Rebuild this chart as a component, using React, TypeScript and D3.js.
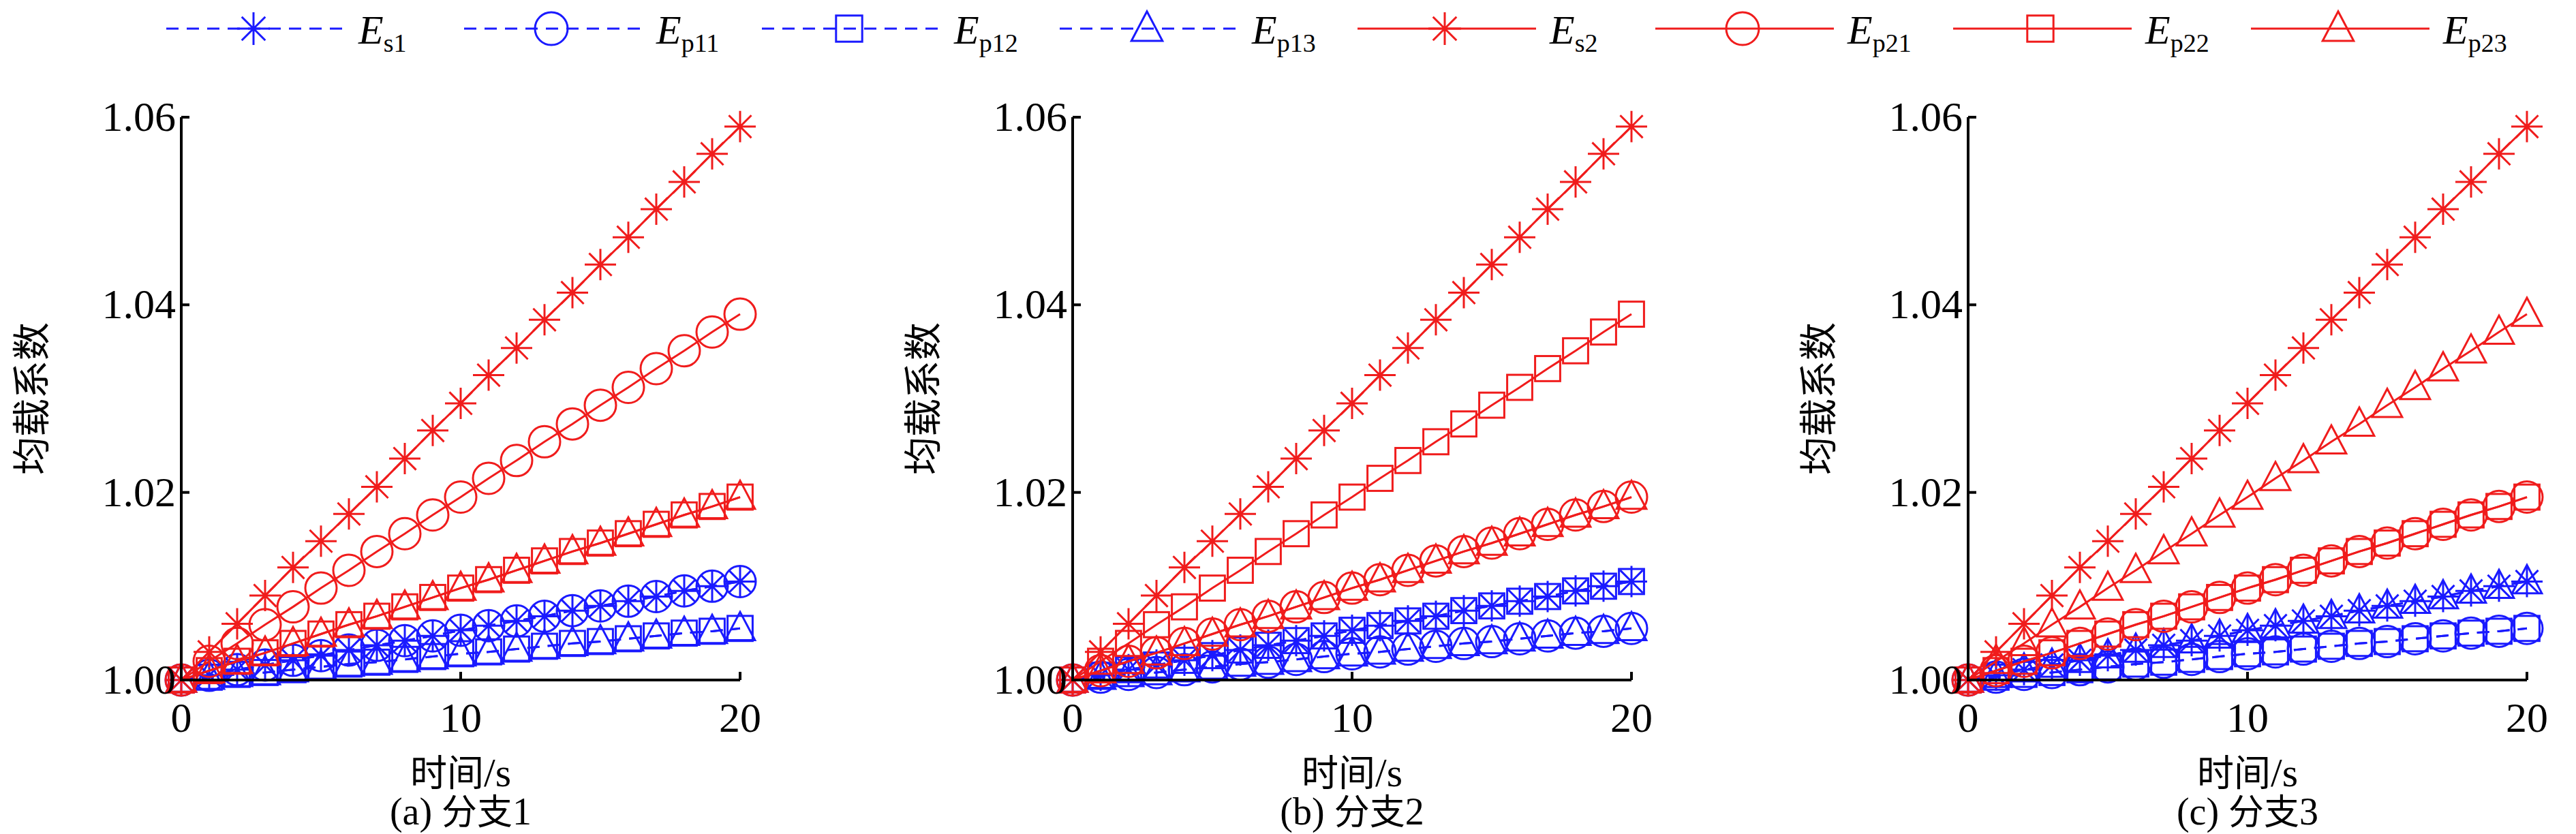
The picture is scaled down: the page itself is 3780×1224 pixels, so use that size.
import React from 'react';
import * as d3 from 'd3';

// time points (s)
const times = [0, 1, 2, 3, 4, 5, 6, 7, 8, 9, 10, 11, 12, 13, 14, 15, 16, 17, 18, 19, 20];

// load-sharing coefficient profiles
const prof059 = [1.000, 1.003, 1.006, 1.009, 1.012, 1.0148, 1.0177, 1.0206, 1.0236, 1.0266, 1.0295, 1.0325, 1.0354, 1.0384, 1.0413, 1.0443, 1.0472, 1.0502, 1.0531, 1.0561, 1.059];
const prof039 = [1.000, 1.002, 1.0039, 1.0059, 1.0078, 1.0098, 1.0117, 1.0137, 1.0156, 1.0176, 1.0195, 1.0215, 1.0234, 1.0254, 1.0273, 1.0293, 1.0312, 1.0332, 1.0351, 1.0371, 1.039];
const prof0195 = [1.000, 1.001, 1.002, 1.0029, 1.0039, 1.0049, 1.0059, 1.0068, 1.0078, 1.0088, 1.0098, 1.0107, 1.0117, 1.0127, 1.0137, 1.0146, 1.0156, 1.0166, 1.0176, 1.0185, 1.0195];
const prof0105 = [1.000, 1.0005, 1.0011, 1.0016, 1.0021, 1.0026, 1.0032, 1.0037, 1.0042, 1.0047, 1.0053, 1.0058, 1.0063, 1.0068, 1.0074, 1.0079, 1.0084, 1.0089, 1.0095, 1.01, 1.0105];
const prof0055 = [1.000, 1.0003, 1.0006, 1.0008, 1.0011, 1.0014, 1.0017, 1.0019, 1.0022, 1.0025, 1.0028, 1.003, 1.0033, 1.0036, 1.0039, 1.0041, 1.0044, 1.0047, 1.005, 1.0052, 1.0055];

// series order: Es1, Ep11, Ep12, Ep13, Es2, Ep21, Ep22, Ep23
const panelA = [prof0105, prof0105, prof0055, prof0055, prof059, prof039, prof0195, prof0195];
const panelB = [prof0105, prof0055, prof0105, prof0055, prof059, prof0195, prof039, prof0195];
const panelC = [prof0105, prof0055, prof0055, prof0105, prof059, prof0195, prof0195, prof039];
const panels = [panelA, panelB, panelC];
const captions = ['(a) 分支1', '(b) 分支2', '(c) 分支3'];

const seriesSub = ['s1', 'p11', 'p12', 'p13', 's2', 'p21', 'p22', 'p23'];
const seriesMarker = ['star', 'circle', 'square', 'triangle', 'star', 'circle', 'square', 'triangle'];
const yTicks = [1.0, 1.02, 1.04, 1.06];
const xTicks = [0, 10, 20];

const BLUE = '#1a1aff';
const RED = '#f01c1c';
const serif = '"Liberation Serif", "Times New Roman", serif';
const cjk = '"Noto Sans CJK SC", sans-serif';

const Marker = ({ type, x, y, color, s }: { type: string; x: number; y: number; color: string; s: number }) => {
  const sw = 3;
  if (type === 'circle') return <circle cx={x} cy={y} r={s} fill="none" stroke={color} strokeWidth={sw} />;
  if (type === 'square') return <rect x={x - s * 0.8} y={y - s * 0.8} width={s * 1.6} height={s * 1.6} fill="none" stroke={color} strokeWidth={sw} />;
  if (type === 'triangle')
    return <path d={`M${x},${y - s * 1.05}L${x + s * 0.95},${y + s * 0.75}L${x - s * 0.95},${y + s * 0.75}Z`} fill="none" stroke={color} strokeWidth={sw} />;
  const d = s * 0.72;
  return (
    <path
      d={`M${x - s},${y}H${x + s}M${x},${y - s}V${y + s}M${x - d},${y - d}L${x + d},${y + d}M${x - d},${y + d}L${x + d},${y - d}`}
      stroke={color}
      strokeWidth={sw}
    />
  );
};

const axisLeftPos = [258, 1566, 2880];
const plotW = 820;
const top = 164;
const bottom = 990;

const Panel = ({ idx }: { idx: number }) => {
  const left = axisLeftPos[idx];
  const x = d3.scaleLinear().domain([0, 20]).range([left, left + plotW]);
  const y = d3.scaleLinear().domain([1.0, 1.06]).range([bottom, top]);
  const line = d3.line<number>().x((_, i) => x(times[i])).y(d => y(d));
  const data = panels[idx];
  const cx = left + plotW / 2;
  return (
    <g>
      {data.map((vals, si) => {
        const color = si < 4 ? BLUE : RED;
        return (
          <g key={si}>
            <path d={line(vals) || ''} fill="none" stroke={color} strokeWidth={3} strokeDasharray={si < 4 ? '18,12' : undefined} />
            {vals.map((v, i) => (
              <Marker key={i} type={seriesMarker[si]} x={x(times[i])} y={y(v)} color={color} s={23} />
            ))}
          </g>
        );
      })}
      <path d={`M${left},${top}V${bottom}H${left + plotW}`} fill="none" stroke="#000" strokeWidth={4} />
      {yTicks.map(t => (
        <g key={t}>
          <line x1={left} x2={left + 12} y1={y(t)} y2={y(t)} stroke="#000" strokeWidth={4} />
          <text x={left - 8} y={y(t) + 20} textAnchor="end" fontFamily={serif} fontSize={62}>{t.toFixed(2)}</text>
        </g>
      ))}
      {xTicks.map(t => (
        <g key={t}>
          <line x1={x(t)} x2={x(t)} y1={bottom} y2={bottom - 12} stroke="#000" strokeWidth={4} />
          <text x={x(t)} y={bottom + 76} textAnchor="middle" fontFamily={serif} fontSize={62}>{t}</text>
        </g>
      ))}
      <text transform={`translate(${left - 200},${(top + bottom) / 2}) rotate(-90)`} textAnchor="middle" fontFamily={cjk} fontSize={56}>均载系数</text>
      <text x={cx} y={1146} textAnchor="middle" fontSize={54}>
        <tspan fontFamily={cjk}>时间</tspan><tspan fontFamily={serif} fontSize={60}>/s</tspan>
      </text>
      <text x={cx} y={1202} textAnchor="middle" fontSize={52}>
        <tspan fontFamily={serif} fontSize={56}>({String.fromCharCode(97 + idx)}) </tspan>
        <tspan fontFamily={cjk}>分支</tspan>
        <tspan fontFamily={serif} fontSize={56}>{idx + 1}</tspan>
      </text>
    </g>
  );
};

const Legend = () => {
  const x0 = d3.scaleLinear().domain([0, 1]).range([236, 673]);
  return (
    <g>
      {seriesSub.map((sub, i) => {
        const lx = x0(i);
        const color = i < 4 ? BLUE : RED;
        return (
          <g key={sub}>
            <line x1={lx} x2={lx + 262} y1={34} y2={34} stroke={color} strokeWidth={3} strokeDasharray={i < 4 ? '18,12' : undefined} />
            <Marker type={seriesMarker[i]} x={lx + 128} y={34} color={color} s={24} />
            <text x={lx + 282} y={56} fontFamily={serif} fontSize={60}>
              <tspan fontStyle="italic">E</tspan>
              <tspan fontSize={38} dy={12}>{sub}</tspan>
            </text>
          </g>
        );
      })}
    </g>
  );
};

export default function App() {
  return (
    <svg width={3780} height={1224} style={{ display: 'block', background: '#fff' }}>
      <Legend />
      {captions.map((c, i) => <Panel key={c} idx={i} />)}
    </svg>
  );
}
